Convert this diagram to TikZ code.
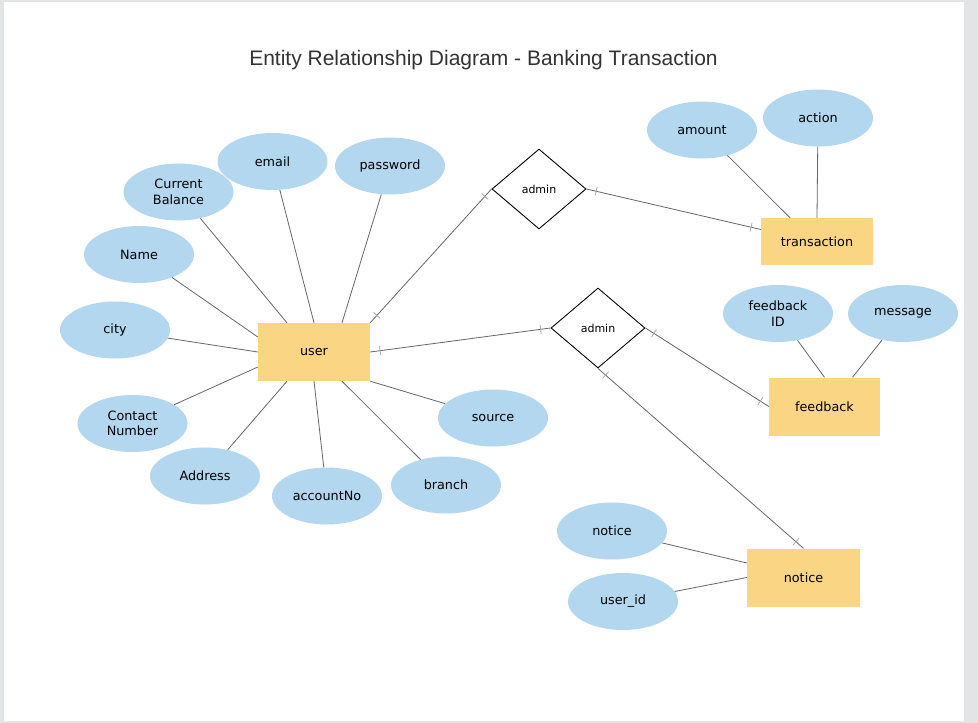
\documentclass[tikz,border=0pt]{standalone}
\usepackage{fontspec}
\setmainfont{DejaVu Sans}
\newfontfamily\titlefont{Liberation Sans}
\usetikzlibrary{shapes.geometric,decorations.markings}
\definecolor{attrblue}{HTML}{B3D7EE}
\definecolor{entorange}{HTML}{FAD584}
\definecolor{linegray}{HTML}{666666}
\definecolor{tickgray}{HTML}{AAAAAA}
\definecolor{pagegray}{HTML}{E3E4E6}
\definecolor{titlegray}{HTML}{333333}
\begin{document}
\begin{tikzpicture}[x=1pt,y=-1pt,
  lbl/.style={font=\fontsize{12.8}{15.5}\selectfont, text=black},
  attr/.style={lbl, ellipse, fill=attrblue, minimum width=110pt, minimum height=57pt, inner sep=0pt, align=center},
  entity/.style={lbl, rectangle, fill=entorange, minimum width=112pt, minimum height=58pt, inner sep=0pt},
  rel/.style={diamond, draw=black, fill=white, line width=0.9pt, minimum width=94pt, minimum height=80pt, inner sep=0pt, aspect=1.175, font=\fontsize{11}{13}\selectfont},
  conn/.style={draw=linegray, line width=0.8pt},
  relconn/.style={conn, postaction={decorate}, decoration={markings,
     mark=at position 10pt with {\draw[tickgray, line width=0.8pt] (0pt,-4.5pt) -- (0pt,4.5pt);},
     mark=at position -10pt with {\draw[tickgray, line width=0.8pt] (0pt,-4.5pt) -- (0pt,4.5pt);}}}
]
\useasboundingbox (0,0) rectangle (978,723);
\fill[pagegray] (0,0) rectangle (978,723);
\fill[white] (4,2) rectangle (964,721);

\node[anchor=base, text=titlegray, font=\titlefont\fontsize{21}{25}\selectfont] (title) at (483.5,65) {Entity Relationship Diagram - Banking Transaction};

% entities
\node[entity] (user) at (314,352) {user};
\node[entity, minimum height=47pt] (tr) at (817,241.5) {transaction};
\node[entity, minimum width=111pt] (fb) at (824.5,406.5) {feedback};
\node[entity, minimum width=113pt] (nt) at (803.5,577.5) {notice};

% relationships
\node[rel] (a1) at (539,189) {admin};
\node[rel] (a2) at (598,328) {admin};

% attributes
\node[attr] (cb) at (178.5,192) {Current\\Balance};
\node[attr] (em) at (272.5,161.5) {email};
\node[attr] (pw) at (390,166) {password};
\node[attr] (nm) at (139,254.5) {Name};
\node[attr] (ct) at (115,330) {city};
\node[attr] (cn) at (132.5,423.5) {Contact\\Number};
\node[attr] (ad) at (205,476) {Address};
\node[attr] (ac) at (327,496) {accountNo};
\node[attr] (br) at (446,485) {branch};
\node[attr] (so) at (493,418) {source};
\node[attr] (am) at (702,130) {amount};
\node[attr] (at) at (818,118) {action};
\node[attr] (fi) at (778,313.5) {feedback\\ID};
\node[attr] (ms) at (903,313.5) {message};
\node[attr] (na) at (612,531) {notice};
\node[attr] (ui) at (623,601.5) {user\_id};

% attribute connectors
\draw[conn] (cb) -- ([xshift=-27pt]user.north);
\draw[conn] (em) -- (user.north);
\draw[conn] (pw) -- ([xshift=28pt]user.north);
\draw[conn] (nm) -- ([yshift=15pt]user.west);
\draw[conn] (ct) -- (user.west);
\draw[conn] (cn) -- ([yshift=-15pt]user.west);
\draw[conn] (ad) -- ([xshift=-27pt]user.south);
\draw[conn] (ac) -- (user.south);
\draw[conn] (br) -- ([xshift=28pt]user.south);
\draw[conn] (so) -- (user.south east);
\draw[conn] (am) -- ([xshift=-27pt]tr.north);
\draw[conn] (at) -- (tr.north);
\draw[conn] (fi) -- (fb.north);
\draw[conn] (ms) -- ([xshift=28pt]fb.north);
\draw[conn] (na) -- ([yshift=14.5pt]nt.west);
\draw[conn] (ui) -- (nt.west);

% relationship connectors
\draw[relconn] (user.north east) -- (a1.west);
\draw[relconn] (a1.east) -- ([yshift=12pt]tr.west);
\draw[relconn] (user.east) -- (a2.west);
\draw[relconn] (a2.east) -- (fb.west);
\draw[relconn] (a2.south) -- (nt.north);
\end{tikzpicture}
\end{document}
